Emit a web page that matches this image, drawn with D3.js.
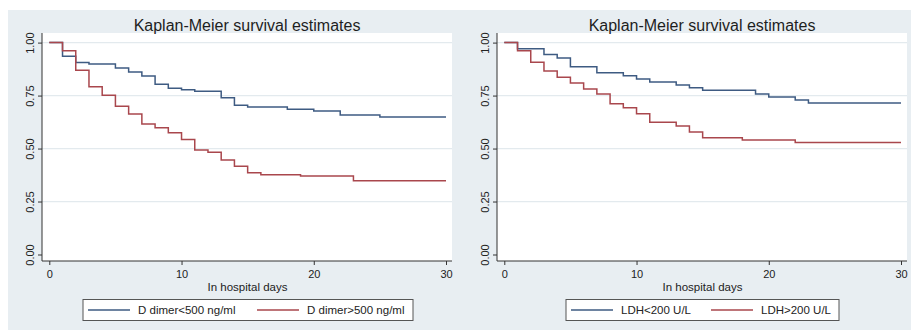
<!DOCTYPE html>
<html>
<head>
<meta charset="utf-8">
<script src="https://cdn.jsdelivr.net/npm/d3@7"></script>
<style>
  html, body { margin: 0; padding: 0; background: #ffffff; }
  svg { display: block; font-family: "Liberation Sans", Arial, sans-serif; }
</style>
</head>
<body>
<svg id="chart" width="911" height="331"></svg>
<script>
// ---- Data ----
const chartTitle = "Kaplan-Meier survival estimates";
const xAxisTitle = "In hospital days";
const xTicks = [0, 10, 20, 30];
const yTicks = [0, 0.25, 0.5, 0.75, 1];

// Panel 1: D dimer
const ddLowLabel = "D dimer<500 ng/ml";
const ddLowTimes = [0, 1, 2, 3, 5, 6, 7, 8, 9, 10, 11, 13, 14, 15, 18, 20, 22, 25, 30];
const ddLowSurv  = [1.0, 0.936, 0.906, 0.899, 0.880, 0.861, 0.842, 0.804, 0.785, 0.777, 0.770, 0.740, 0.704, 0.696, 0.686, 0.677, 0.658, 0.649, 0.649];
const ddHighLabel = "D dimer>500 ng/ml";
const ddHighTimes = [0, 1, 2, 3, 4, 5, 6, 7, 8, 9, 10, 11, 12, 13, 14, 15, 16, 19, 23, 30];
const ddHighSurv  = [1.0, 0.961, 0.870, 0.792, 0.751, 0.700, 0.663, 0.616, 0.598, 0.575, 0.543, 0.493, 0.483, 0.446, 0.417, 0.386, 0.376, 0.370, 0.348, 0.348];

// Panel 2: LDH
const ldhLowLabel = "LDH<200 U/L";
const ldhLowTimes = [0, 1, 3, 4, 5, 7, 9, 10, 11, 13, 14, 15, 19, 20, 22, 23, 30];
const ldhLowSurv  = [1.0, 0.971, 0.944, 0.927, 0.886, 0.858, 0.843, 0.828, 0.814, 0.800, 0.787, 0.775, 0.757, 0.743, 0.729, 0.715, 0.715];
const ldhHighLabel = "LDH>200 U/L";
const ldhHighTimes = [0, 1, 2, 3, 4, 5, 6, 7, 8, 9, 10, 11, 13, 14, 15, 18, 22, 30];
const ldhHighSurv  = [1.0, 0.961, 0.907, 0.866, 0.837, 0.809, 0.781, 0.758, 0.711, 0.692, 0.664, 0.624, 0.606, 0.578, 0.551, 0.540, 0.529, 0.529];

const blue = "#3e5b82";
const red = "#a9474d";

const svg = d3.select("#chart");

// outer background
svg.append("rect").attr("x", 8).attr("y", 10).attr("width", 903).attr("height", 320).attr("fill", "#e8eef2");

const panels = [
  { ox: 0, series: [
      { label: ddLowLabel, t: ddLowTimes, s: ddLowSurv, color: blue },
      { label: ddHighLabel, t: ddHighTimes, s: ddHighSurv, color: red } ],
    legend: { x0: 83, x1: 413, items: [{ l1: 88, l2: 130, tx: 138 }, { l1: 257, l2: 299, tx: 307 }] } },
  { ox: 455, series: [
      { label: ldhLowLabel, t: ldhLowTimes, s: ldhLowSurv, color: blue },
      { label: ldhHighLabel, t: ldhHighTimes, s: ldhHighSurv, color: red } ],
    legend: { x0: 111, x1: 384, items: [{ l1: 116, l2: 158, tx: 166 }, { l1: 256, l2: 298, tx: 306 }] } }
];

panels.forEach(p => {
  const g = svg.append("g").attr("transform", `translate(${p.ox},0)`);
  const plotL = 42, plotR = 452, plotT = 33, plotB = 261;

  const x = d3.scaleLinear().domain([0, 30]).range([49.3, 446]);
  const y = d3.scaleLinear().domain([0, 1]).range([254.5, 42.6]);

  // plot region
  g.append("rect").attr("x", plotL).attr("y", plotT).attr("width", plotR - plotL).attr("height", plotB - plotT).attr("fill", "#ffffff");

  // gridlines
  g.selectAll("line.grid").data(yTicks.filter(d => d > 0)).enter().append("line")
    .attr("x1", plotL).attr("x2", plotR)
    .attr("y1", d => y(d)).attr("y2", d => y(d))
    .attr("stroke", "#e3eaee").attr("stroke-width", 1.2);

  // title
  g.append("text").attr("x", (plotL + plotR) / 2).attr("y", 31)
    .attr("text-anchor", "middle").attr("font-size", 16).attr("fill", "#1e1e1e").text(chartTitle);

  // y axis
  const yAxis = d3.axisLeft(y).tickValues(yTicks).tickFormat(d3.format(".2f")).tickSize(4).tickSizeOuter(0);
  const ya = g.append("g").attr("transform", `translate(${plotL},0)`).call(yAxis);
  ya.select(".domain").attr("d", `M0,${plotT}V${plotB}`).attr("stroke", "#333");
  ya.selectAll(".tick line").attr("stroke", "#333");
  ya.selectAll(".tick text")
    .attr("x", null).attr("dy", null)
    .attr("transform", "translate(-8,0) rotate(-90)")
    .attr("text-anchor", "middle").attr("font-size", 11).attr("fill", "#222")
    .attr("font-family", "'Liberation Sans', Arial, sans-serif");

  // x axis
  const xAxis = d3.axisBottom(x).tickValues(xTicks).tickFormat(d3.format("d")).tickSize(4).tickSizeOuter(0);
  const xa = g.append("g").attr("transform", `translate(0,${plotB})`).call(xAxis);
  xa.select(".domain").attr("d", `M${plotL},0H${plotR}`).attr("stroke", "#333");
  xa.selectAll(".tick line").attr("stroke", "#333");
  xa.selectAll(".tick text").attr("y", 9).attr("font-size", 11).attr("fill", "#222")
    .attr("font-family", "'Liberation Sans', Arial, sans-serif");

  g.append("text").attr("x", (plotL + plotR) / 2 + 0.5).attr("y", 291)
    .attr("text-anchor", "middle").attr("font-size", 11.5).attr("fill", "#222").text(xAxisTitle);

  // survival step lines
  const line = d3.line().x(d => x(d[0])).y(d => y(d[1])).curve(d3.curveStepAfter);
  p.series.forEach(s => {
    const pts = s.t.map((t, i) => [t, s.s[i]]);
    g.append("path").attr("d", line(pts)).attr("fill", "none")
      .attr("stroke", s.color).attr("stroke-width", 1.5);
  });

  // legend
  const L = p.legend;
  g.append("rect").attr("x", L.x0).attr("y", 299.5).attr("width", L.x1 - L.x0).attr("height", 21)
    .attr("fill", "#ffffff").attr("stroke", "#555").attr("stroke-width", 1);
  p.series.forEach((s, i) => {
    const it = L.items[i];
    g.append("line").attr("x1", it.l1).attr("x2", it.l2).attr("y1", 310).attr("y2", 310)
      .attr("stroke", s.color).attr("stroke-width", 1.3);
    g.append("text").attr("x", it.tx).attr("y", 314).attr("font-size", 11.5).attr("fill", "#222").text(s.label);
  });
});
</script>
</body>
</html>
